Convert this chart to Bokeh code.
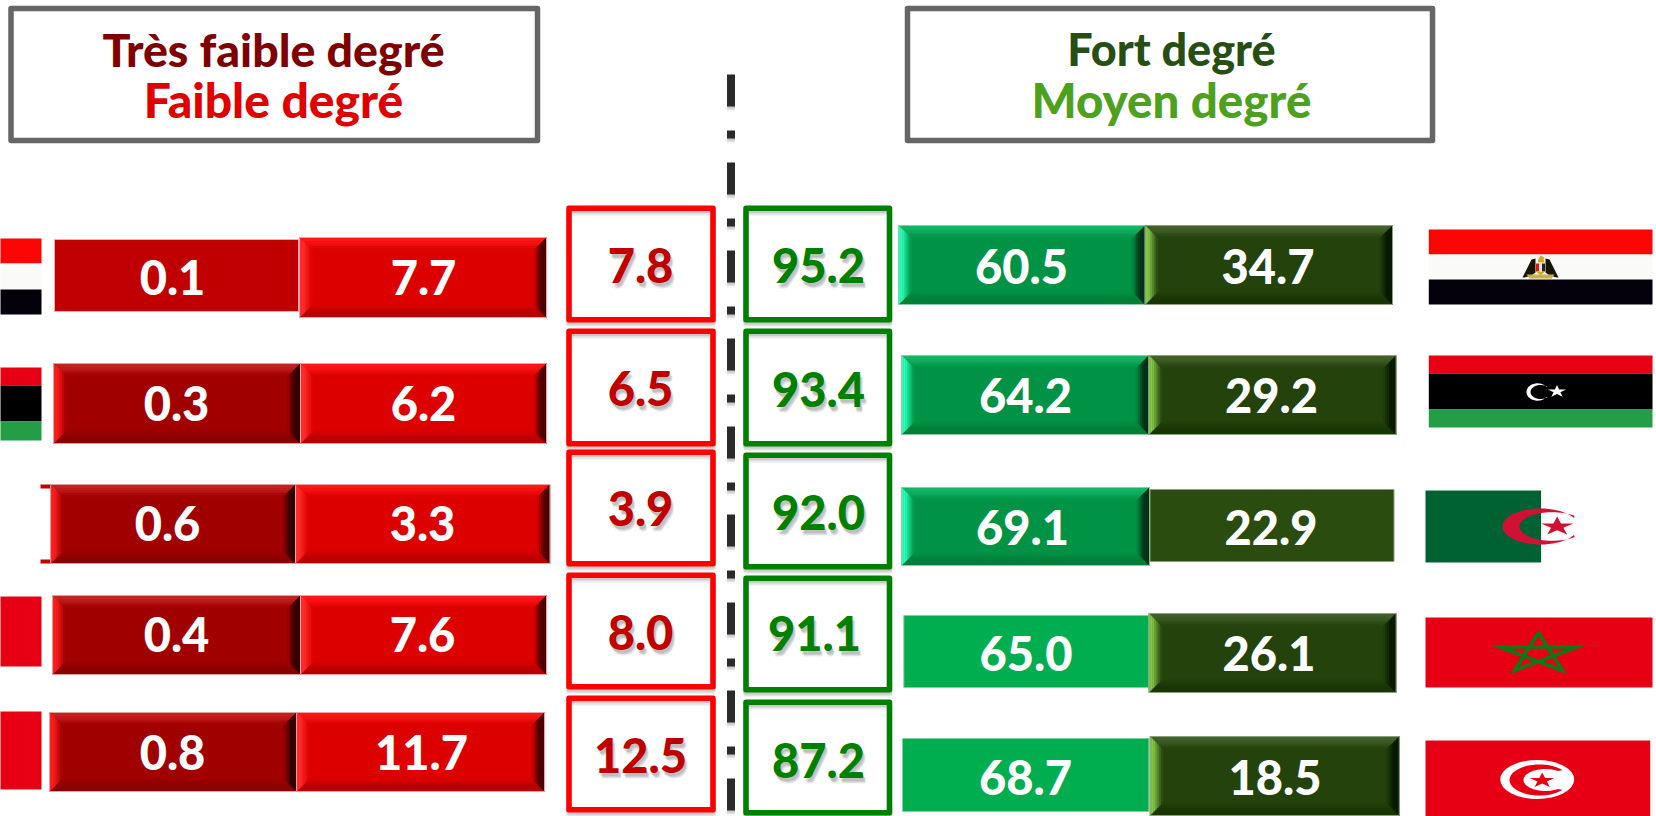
import numpy as np
from bokeh.plotting import figure
from bokeh.models import Range1d, ColumnDataSource
from bokeh.core.properties import value
from bokeh.embed import file_html
from bokeh.resources import INLINE

# ---------- data ----------
countries = ["Égypte", "Libye", "Algérie", "Maroc", "Tunisie"]
tres_faible = [0.1, 0.3, 0.6, 0.4, 0.8]
faible = [7.7, 6.2, 3.3, 7.6, 11.7]
total_bas = [7.8, 6.5, 3.9, 8.0, 12.5]
total_haut = [95.2, 93.4, 92.0, 91.1, 87.2]
moyen = [60.5, 64.2, 69.1, 65.0, 68.7]
fort = [34.7, 29.2, 22.9, 26.1, 18.5]
titres_gauche = ["Très faible degré", "Faible degré"]
titres_droite = ["Fort degré", "Moyen degré"]

# ---------- layout (pixels of the infographic; rows are hand placed) ----------
W, H = 1656, 816
FONT = "Lato Black"

p = figure(width=W, height=H, x_range=Range1d(0, W), y_range=Range1d(H, 0),
           output_backend="svg", toolbar_location=None, min_border=0,
           styles={"position": "absolute", "left": "0px", "top": "0px"})
p.axis.visible = False
p.grid.visible = False
p.outline_line_color = None
p.background_fill_color = "white"


def rect(x0, x1, y0, y1, color, line=None, lw=1, alpha=1.0):
    p.quad(left=[x0], right=[x1], top=[y0], bottom=[y1], fill_color=color,
           fill_alpha=alpha, line_color=line, line_width=lw)


def box(x0, x1, y0, y1, color, lw=5.5, shadow=True):
    if shadow:
        for d, al in ((2, 0.2), (3.5, 0.15), (5, 0.08)):
            p.quad(left=[x0], right=[x1], top=[y0 + d], bottom=[y1 + d], fill_color=None,
                   line_color="#707070", line_alpha=al, line_width=lw, line_join="round")
    p.quad(left=[x0], right=[x1], top=[y0], bottom=[y1], fill_color=None,
           line_color=color, line_width=lw, line_join="round")


def h2rgb(h):
    return np.array([int(h[i:i + 2], 16) for i in (1, 3, 5)], float)


def mix(a, b, t):
    c = h2rgb(a) * (1 - t) + h2rgb(b) * t
    return "#%02x%02x%02x" % tuple(int(round(v)) for v in c)


DARKRED = dict(c="#A00000", t="#C62424", b="#8A0000", l="#FF2020", r="#300000", e="#E0A0A0")
RED = dict(c="#DC0000", t="#FF1818", b="#B80000", l="#FF3030", r="#480000", e="#F0A0A0")
GREEN = dict(c="#009245", t="#16B666", b="#007F38", l="#2CFFB8", r="#003018", e="#90C8A8")
DGREEN = dict(c="#23420C", t="#44632C", b="#1A3606", l="#86C84A", r="#081A02", e="#8CA080")


def bevel(x0, x1, y0, y1, s, b=13, n=7):
    rect(x0, x1, y0, y1, s["c"])
    xs, ys, cs = [], [], []
    for i in range(n):
        a0, a1 = b * i / n, b * (i + 1) / n
        m = (i + 0.5) / n
        # top and bottom bands
        xs.append([x0 + a0, x1 - a0, x1 - a1, x0 + a1])
        ys.append([y0 + a0, y0 + a0, y0 + a1, y0 + a1])
        cs.append(mix(s["t"], s["c"], max(0, m - 0.25) / 0.75))
        xs.append([x0 + a0, x1 - a0, x1 - a1, x0 + a1])
        ys.append([y1 - a0, y1 - a0, y1 - a1, y1 - a1])
        cs.append(mix(s["b"], s["c"], max(0, m - 0.4) / 0.6))
        # left and right bands
        xs.append([x0 + a0, x0 + a1, x0 + a1, x0 + a0])
        ys.append([y0 + a0, y0 + a1, y1 - a1, y1 - a0])
        cs.append(mix(s["l"], s["c"], max(0, m - 0.3) / 0.7))
        xs.append([x1 - a0, x1 - a1, x1 - a1, x1 - a0])
        ys.append([y0 + a0, y0 + a1, y1 - a1, y1 - a0])
        cs.append(mix(s["r"], s["c"], max(0, m - 0.45) / 0.55))
    p.patches(xs, ys, fill_color=cs, line_color=cs, line_width=0.4)
    p.quad(left=[x0], right=[x1], top=[y0], bottom=[y1], fill_color=None,
           line_color=s["e"], line_width=1)


def star(cx, cy, rx, ry, inner=0.38, col="#000000"):
    a = -np.pi / 2 + np.arange(10) * np.pi / 5
    k = np.where(np.arange(10) % 2 == 0, 1.0, inner)
    p.patch(cx + rx * k * np.cos(a), cy + ry * k * np.sin(a), fill_color=col, line_color=None)


def crescent(ox, oy, orx, ory, ix, iy, irx, iry, a_o, a_i, col):
    t1 = np.radians(np.linspace(a_o, 360 - a_o, 50))
    t2 = np.radians(np.linspace(360 - a_i, a_i, 50))
    xs = np.r_[ox + orx * np.cos(t1), ix + irx * np.cos(t2)]
    ys = np.r_[oy + ory * np.sin(t1), iy + iry * np.sin(t2)]
    p.patch(xs, ys, fill_color=col, line_color=None)


FRED = "#E70013"

# ---------- left flags (cropped by the page edge) ----------
rect(-2, 41, 238, 263, "#FB0505")
rect(-2, 41, 263, 289, "#FAFBF8")
rect(-2, 41, 289, 314, "#05010A")
rect(-2, 41, 367, 385, FRED)
rect(-2, 41, 385, 421, "#000000")
rect(-2, 41, 421, 440, "#239E46")
rect(-2, 41, 596, 666, FRED)
rect(-2, 41, 711, 789, FRED)

# ---------- left bars ----------
rect(54, 298, 239, 311, "#C00000", line="#E8B0B0")
bevel(299, 546, 237, 317, RED)
bevel(53, 300, 363, 443, DARKRED)
bevel(300, 546, 363, 443, RED)
rect(40, 50, 484, 488, "#C00000")
rect(40, 50, 559, 563, "#C00000")
bevel(50, 295, 484, 563, DARKRED)
bevel(295, 549.5, 484, 563, RED)
bevel(52, 300, 595, 674, DARKRED)
bevel(300, 546, 595, 674, RED)
bevel(49, 296, 712, 791, DARKRED)
bevel(296, 544, 712, 791, RED)

# ---------- centre boxes ----------
red_y = [(205, 322), (328, 446), (449, 566), (572, 689), (695, 812)]
green_y = [(205, 322), (328, 446), (452, 569), (575, 692), (699, 815)]
for y0, y1 in red_y:
    box(568.5, 712.5, y0 + 2.75, y1 - 2.75, "#FF0000")
for y0, y1 in green_y:
    box(745.5, 889, y0 + 2.75, y1 - 2.75, "#008000")

# ---------- divider ----------
for d, al in ((2, 0.2), (3.5, 0.15), (5, 0.08)):
    p.line([730.5, 730.5], [74 + d, 812 + d], line_color="#707070", line_alpha=al, line_width=8,
           line_dash="32 24 8 24", line_cap="butt")
p.line([730.5, 730.5], [74, 812], line_color="#2B2B2B", line_width=8,
       line_dash="32 24 8 24", line_cap="butt")

# ---------- right bars ----------
bevel(898, 1144.7, 225, 304, GREEN)
bevel(1144.7, 1392, 225, 304, DGREEN)
bevel(901, 1148.4, 355, 434, GREEN)
bevel(1148.4, 1395.6, 355, 434, DGREEN)
bevel(901, 1149, 487, 565, GREEN)
rect(1149.5, 1393.5, 489, 561, "#2A4D0F", line="#8CA080")
rect(903.3, 1148, 615, 687, "#00AE50", line="#80D0A0")
bevel(1148.4, 1395.6, 613, 692, DGREEN)
rect(902, 1148.4, 738, 811, "#00AE50", line="#80D0A0")
bevel(1149.5, 1398.8, 736, 815, DGREEN)

# ---------- right flags ----------
# Egypt
rect(1428.3, 1652, 229, 254, "#FB0505")
rect(1428.3, 1652, 254, 279, "#FAFBF8")
rect(1428.3, 1652, 279, 304, "#05010A")
p.patch([1522, 1531, 1535, 1535, 1531, 1524], [277, 259, 258, 272, 275, 277], fill_color="#1A1408", line_color=None)
p.patch([1558, 1549, 1545, 1545, 1549, 1556], [277, 259, 258, 272, 275, 277], fill_color="#1A1408", line_color=None)
p.patch([1537, 1540, 1544, 1543, 1544, 1537, 1538], [260, 255, 257, 259, 262, 262, 260], fill_color="#D4A820", line_color=None)
rect(1535.5, 1538.5, 263, 271, "#D81818")
rect(1538.5, 1541.5, 263, 271, "#F2E8D0")
rect(1541.5, 1544.5, 263, 271, "#222222")
p.patch([1535.5, 1544.5, 1540], [271, 271, 275], fill_color="#D4A820", line_color=None)
p.patch([1526, 1554, 1551, 1529], [274, 274, 278, 278], fill_color="#C8B050", line_color=None)
# Libya
rect(1428.3, 1652, 355, 373, FRED)
rect(1428.3, 1652, 373, 409, "#000000")
rect(1428.3, 1652, 409, 427, "#239E46")
crescent(1537, 391.5, 11, 8.7, 1540, 391.5, 10, 7, 35, 45, "#FFFFFF")
star(1556.5, 391, 9.5, 6.5, col="#FFFFFF")
# Algeria
rect(1425, 1540.6, 490, 562, "#006233")
crescent(1540, 526, 38, 18, 1552, 526, 33, 14.3, 28, 48, "#D21034")
star(1556.7, 526, 17, 10, col="#D21034")
# Morocco
rect(1425, 1652, 617, 687, FRED)
a = -np.pi / 2 + np.arange(6) * 4 * np.pi / 5
p.line(1538 + 40.7 * np.cos(a), 653 + 21 * np.sin(a), line_color="#0B7A14", line_width=3.5, line_join="miter")
# Tunisia
rect(1425, 1649.7, 740, 818, FRED)
p.ellipse([1536.7], [779], width=[74], height=[39], fill_color="#FFFFFF", line_color=None)
crescent(1539, 779.5, 30, 15.5, 1545, 779.5, 22, 11, 40, 55, FRED)
star(1541.7, 780, 13, 8, col=FRED)

# ---------- title boxes ----------
box(10.5, 537, 8, 140, "#666666", shadow=False)
box(907, 1432, 8, 140, "#666666", shadow=False)


def label(x, y, vals, color, size, shadow=False):
    txt = [v if isinstance(v, str) else f"{v:.1f}" for v in vals]
    src = ColumnDataSource(dict(x=x, y=y, t=txt))
    if shadow:
        for dx, dy, al in ((1, 3, 0.14), (2, 4, 0.16), (3, 5, 0.12), (2, 6, 0.08)):
            sh = ColumnDataSource(dict(x=[v + dx for v in x], y=[v + dy for v in y], t=txt))
            p.text("x", "y", text="t", source=sh, text_font=value(FONT),
                   text_font_size=size, text_color="#606060", text_alpha=al,
                   text_align="center", text_baseline="middle")
    p.text("x", "y", text="t", source=src, text_font=value(FONT),
           text_font_size=size, text_color=color, text_align="center", text_baseline="middle")


VAL = "47px"
label([172, 176, 167, 176, 172], [277, 403, 523, 634, 752], tres_faible, "#FFFFFF", VAL)
label([423, 423, 422, 422, 421], [277, 403, 523, 634, 752], faible, "#FFFFFF", VAL)
label([640, 640, 640, 640, 640], [265, 388, 508, 632, 755], total_bas, "#C00000", VAL, shadow=True)
label([818, 818, 818, 814, 818], [265, 389, 512, 633, 760], total_haut, "#008000", VAL, shadow=True)
label([1021, 1025, 1022, 1025.5, 1025], [266, 395, 527, 653, 777], moyen, "#FFFFFF", VAL)
label([1267.5, 1271, 1270.5, 1268.5, 1274.5], [266, 395, 527, 653, 777], fort, "#FFFFFF", VAL)

label([273], [48], titres_gauche[:1], "#7F0000", "46.5px")
label([273], [99], titres_gauche[1:], "#E00000", "48px")
label([1171], [48], titres_droite[:1], "#274E13", "45px")
label([1171], [99], titres_droite[1:], "#4EA11F", "47.5px")

open("out.html", "w").write(file_html(p, INLINE))
